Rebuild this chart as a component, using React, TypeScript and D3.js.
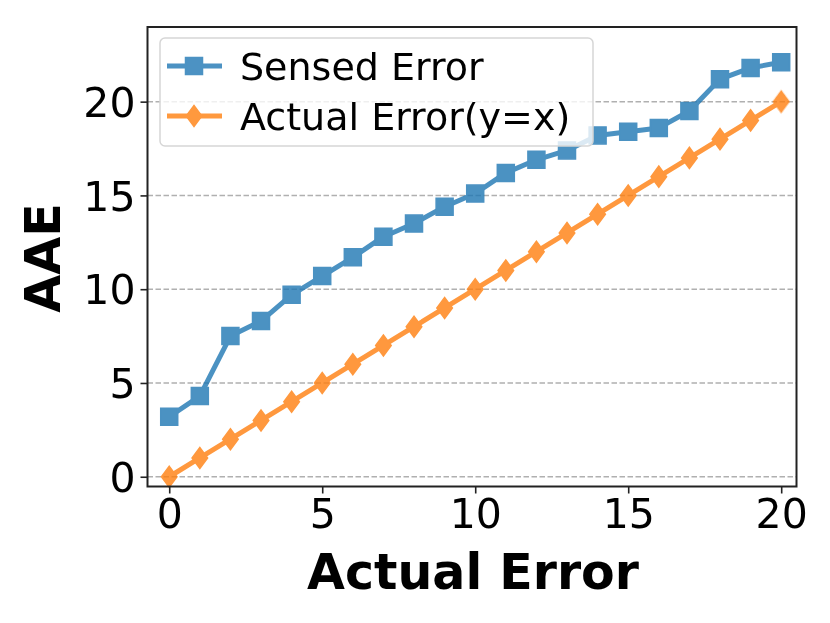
import React, { useRef, useEffect } from "react";
import * as d3 from "d3";

// values
const actualError = [0, 1, 2, 3, 4, 5, 6, 7, 8, 9, 10, 11, 12, 13, 14, 15, 16, 17, 18, 19, 20];
const sensedError = [3.2, 4.3, 7.5, 8.3, 9.7, 10.7, 11.7, 12.8, 13.5, 14.4, 15.1, 16.2, 16.9, 17.4, 18.2, 18.4, 18.6, 19.5, 21.2, 21.8, 22.1];
const idealError = [0, 1, 2, 3, 4, 5, 6, 7, 8, 9, 10, 11, 12, 13, 14, 15, 16, 17, 18, 19, 20];
const xTicks = [0, 5, 10, 15, 20];
const yTicks = [0, 5, 10, 15, 20];
const seriesNames = ["Sensed Error", "Actual Error(y=x)"];
const seriesColors = ["#1f77b4", "#ff7f0e"];

const App = () => {
  const svgRef = useRef<SVGSVGElement>(null);

  useEffect(() => {
    const svg = d3.select(svgRef.current);
    svg.selectAll("*").remove();

    const left = 147.5, right = 796.5, top = 27, bottom = 486.5;
    const font = "DejaVu Sans, sans-serif";

    const x = d3.scaleLinear().domain([-0.71, 20.5]).range([left, right]);
    const y = d3.scaleLinear().domain([-0.52, 23.98]).range([bottom, top]);

    // grid
    svg
      .append("g")
      .selectAll("line")
      .data(yTicks)
      .enter()
      .append("line")
      .attr("x1", left)
      .attr("x2", right)
      .attr("y1", (d) => y(d))
      .attr("y2", (d) => y(d))
      .attr("stroke", "#b0b0b0")
      .attr("stroke-width", 1.5)
      .attr("stroke-dasharray", "5.5,2.5");

    // series
    const line = d3
      .line<number>()
      .x((d, i) => x(actualError[i]))
      .y((d) => y(d));

    const square = d3.symbol().type(d3.symbolSquare).size(17 * 17);
    const diamond = d3.symbol().type(d3.symbolSquare).size(13 * 13);

    const drawSeries = (vals: number[], color: string, kind: string) => {
      const g = svg.append("g").attr("opacity", 0.8);
      g.append("path")
        .attr("d", line(vals))
        .attr("fill", "none")
        .attr("stroke", color)
        .attr("stroke-width", 5)
        .attr("stroke-linejoin", "round");
      g.selectAll("path.m")
        .data(vals)
        .enter()
        .append("path")
        .attr("class", "m")
        .attr("d", kind === "s" ? square() : diamond())
        .attr("transform", (d, i) =>
          kind === "s"
            ? `translate(${x(actualError[i])},${y(d)})`
            : `translate(${x(actualError[i])},${y(d)}) scale(0.85,1.15) rotate(45)`
        )
        .attr("fill", color)
        .attr("stroke", color)
        .attr("stroke-width", 1.5);
    };
    drawSeries(sensedError, seriesColors[0], "s");
    drawSeries(idealError, seriesColors[1], "d");

    // spines
    svg
      .append("rect")
      .attr("x", left)
      .attr("y", top)
      .attr("width", right - left)
      .attr("height", bottom - top)
      .attr("fill", "none")
      .attr("stroke", "#222")
      .attr("stroke-width", 2);

    // axes
    const xAxis = svg
      .append("g")
      .attr("transform", `translate(0,${bottom})`)
      .call(d3.axisBottom(x).tickValues(xTicks).tickSize(7).tickPadding(4).tickFormat(d3.format("d")));
    const yAxis = svg
      .append("g")
      .attr("transform", `translate(${left},0)`)
      .call(d3.axisLeft(y).tickValues(yTicks).tickSize(7).tickPadding(5).tickFormat(d3.format("d")));
    [xAxis, yAxis].forEach((a) => {
      a.select(".domain").remove();
      a.selectAll("line").attr("stroke", "#222").attr("stroke-width", 1.6);
      a.selectAll("text").attr("font-family", font).attr("font-size", 41).attr("fill", "#000");
    });
    xAxis.selectAll("text").attr("dy", "0.75em");
    yAxis.selectAll("text").attr("dy", "0.36em");

    // axis labels
    svg
      .append("text")
      .attr("x", 473)
      .attr("y", 589)
      .attr("text-anchor", "middle")
      .attr("font-family", font)
      .attr("font-weight", "bold")
      .attr("font-size", 49)
      .text("Actual Error");
    svg
      .append("text")
      .attr("transform", `translate(60,258) rotate(-90)`)
      .attr("text-anchor", "middle")
      .attr("font-family", font)
      .attr("font-weight", "bold")
      .attr("font-size", 49)
      .text("AAE");

    // legend
    const lg = svg.append("g");
    lg.append("rect")
      .attr("x", 160)
      .attr("y", 38)
      .attr("width", 433)
      .attr("height", 108)
      .attr("rx", 5)
      .attr("fill", "white")
      .attr("fill-opacity", 0.8)
      .attr("stroke", "#d6d6d6")
      .attr("stroke-width", 1.5);
    seriesNames.forEach((name, i) => {
      const cy = 66 + i * 50;
      const row = lg.append("g").attr("opacity", 0.8);
      row.append("line")
        .attr("x1", 167)
        .attr("x2", 222)
        .attr("y1", cy)
        .attr("y2", cy)
        .attr("stroke", seriesColors[i])
        .attr("stroke-width", 5);
      row.append("path")
        .attr("d", i === 0 ? square() : diamond())
        .attr("transform", i === 0 ? `translate(194,${cy})` : `translate(194,${cy}) scale(0.85,1.15) rotate(45)`)
        .attr("fill", seriesColors[i])
        .attr("stroke", seriesColors[i])
        .attr("stroke-width", 1.5);
      lg.append("text")
        .attr("x", 240)
        .attr("y", cy)
        .attr("dy", "0.36em")
        .attr("font-family", font)
        .attr("font-size", 38)
        .text(name);
    });
  }, []);

  return (
    <div>
      <svg ref={svgRef} width={830} height={623} style={{ display: "block", margin: "-8px" }}></svg>
    </div>
  );
};

export default App;
